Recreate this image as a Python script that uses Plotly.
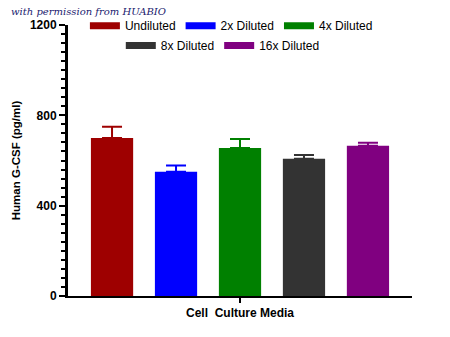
import plotly.graph_objects as go

# G-CSF recovery in cell culture media at several dilutions
groups = ["Undiluted", "2x Diluted", "4x Diluted", "8x Diluted", "16x Diluted"]
means = [700, 550, 655, 608, 665]
errors = [50, 28, 40, 16, 14]
colors = ["#9E0000", "#0000FF", "#008000", "#333333", "#800080"]
category = ["Cell  Culture Media"]
y_ticks = [0, 400, 800, 1200]

fig = go.Figure()

for name, m, e, c in zip(groups, means, errors, colors):
    fig.add_trace(go.Bar(
        x=category, y=[m], name=name, marker_color=c,
        marker_line_width=0, showlegend=False,
        error_y=dict(type="data", symmetric=False, array=[e], arrayminus=[0],
                     color=c, thickness=2, width=10),
    ))

# legend swatches as short thick strokes, split over two centred rows
for i, (name, c) in enumerate(zip(groups, colors)):
    fig.add_trace(go.Scatter(
        x=[None], y=[None], mode="lines", name=name,
        line=dict(color=c, width=7),
        legend="legend" if i < 3 else "legend2",
    ))

legend_style = dict(orientation="h", xanchor="center", yanchor="middle",
                    bgcolor="rgba(0,0,0,0)", itemwidth=30,
                    font=dict(family="Liberation Sans, Arial", size=12, color="#000"))

fig.update_layout(
    width=450, height=337,
    margin=dict(l=68, r=38, t=24, b=41),
    paper_bgcolor="white", plot_bgcolor="white",
    barmode="group", bargap=0.07, bargroupgap=0.34,
    legend=dict(x=0.475, y=0.994, **legend_style),
    legend2=dict(x=0.45, y=0.921, **legend_style),
    font=dict(family="Liberation Sans, Arial", color="#000"),
    xaxis=dict(
        showline=True, linecolor="#000", linewidth=2,
        ticks="outside", ticklen=5, tickwidth=2, tickcolor="#000",
        tickfont=dict(size=12, family="Liberation Sans, Arial", weight="bold"),
        showgrid=False, zeroline=False,
    ),
    yaxis=dict(
        range=[0, 1200], tickvals=y_ticks,
        showline=True, linecolor="#000", linewidth=3,
        ticks="outside", ticklen=6, tickwidth=2, tickcolor="#000",
        minor=dict(dtick=40, ticks="outside", ticklen=4, tickwidth=2, tickcolor="#000"),
        tickfont=dict(size=12, family="Liberation Sans, Arial", weight="bold"),
        title=dict(text="Human G-CSF (pg/ml)", standoff=7,
                   font=dict(size=11.5, family="Liberation Sans, Arial", weight="bold")),
        showgrid=False, zeroline=False,
    ),
)

fig.add_annotation(
    text="with permission from HUABIO", xref="paper", yref="paper",
    x=-0.169, y=1.048, xanchor="left", yanchor="middle", showarrow=False,
    borderpad=0,
    font=dict(family="DejaVu Serif", size=10, color="#1A1A6E", style="italic"),
)

fig.write_html("out.html")
